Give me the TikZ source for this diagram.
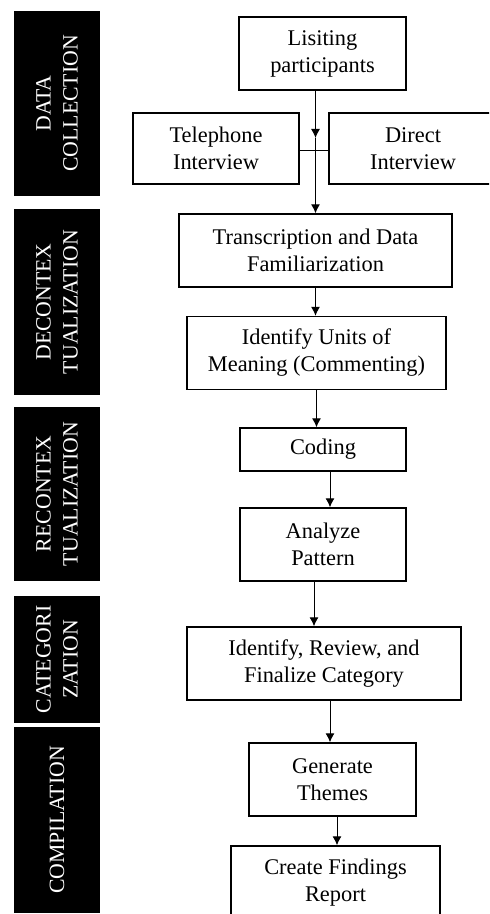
\documentclass[tikz,border=0pt]{standalone}
\usepackage{fontspec}
\setmainfont{Liberation Serif}
\usetikzlibrary{arrows.meta}

\begin{document}
\begin{tikzpicture}[x=0.5pt,y=-0.5pt, b/.style={draw,line width=0.7pt,align=center,minimum height=36.5pt,inner sep=1pt,font=\fontsize{11.2}{13.5}\selectfont}, side/.style={fill=black,text=white,rotate=90,align=center,minimum height=43pt,inner sep=0pt,font=\fontsize{10.9}{13.5}\selectfont}, a/.style={-{Latex[length=4.5pt,width=4.5pt]},line width=0.5pt}]
\useasboundingbox (0,0) rectangle (489,914);
\clip (0,0) rectangle (489,914);
% stage bars
\node[side,minimum width=92.5pt] (s1) at (57,103.5) {DATA\\COLLECTION};
\node[side,minimum width=93pt] (s2) at (57,302) {DECONTEX\\TUALIZATION};
\node[side,minimum width=87pt] (s3) at (57,494) {RECONTEX\\TUALIZATION};
\node[side,minimum width=63.5pt] (s4) at (57,659.5) {CATEGORI\\ZATION};
\node[side,minimum width=93pt] (s5) at (57,820) {COMPILATION};
% steps
\node[b,minimum width=83.5pt] (list) at (322.5,53.5) {Lisiting\\participants};
\node[b,minimum width=83pt,minimum height=35.5pt] (tel) at (216,148.5) {Telephone\\Interview};
\node[b,minimum width=84pt,minimum height=35.5pt] (dir) at (413,148.5) {Direct\\Interview};
\node[b,minimum width=136.5pt] (trans) at (315.5,250.5) {Transcription and Data\\Familiarization};
\node[b,minimum width=129.5pt] (units) at (316.5,353) {Identify Units of\\Meaning (Commenting)};
\node[b,minimum width=83pt,minimum height=21.5pt] (coding) at (323,449.5) {Coding};
\node[b,minimum width=83pt] (pattern) at (323,544.5) {Analyze\\Pattern};
\node[b,minimum width=137pt] (review) at (324,663.5) {Identify, Review, and\\Finalize Category};
\node[b,minimum width=83.5pt] (themes) at (332.5,779.5) {Generate\\Themes};
\node[b,minimum width=104.5pt] (report) at (335.5,882.5) {Create Findings\\Report};
\coordinate (jt) at (315.5,138);
\coordinate (j) at (315.5,151);
\draw[a] (list.south -| j) -- (jt);
\draw[line width=0.5pt] (jt) -- (j);
\draw[line width=0.5pt] (tel.east |- j) -- (dir.west |- j);
\draw[a] (j) -- (j |- trans.north);
\draw[a] (trans.south) -- (trans.south |- units.north);
\draw[a] (units.south) -- (units.south |- coding.north);
\draw[a] ([xshift=3.5pt]coding.south) -- ([xshift=3.5pt]coding.south |- pattern.north);
\draw[a] ([xshift=-4.5pt]pattern.south) -- ([xshift=-4.5pt]pattern.south |- review.north);
\draw[a] ([xshift=3pt]review.south) -- ([xshift=3pt]review.south |- themes.north);
\draw[a] ([xshift=2.25pt]themes.south) -- ([xshift=2.25pt]themes.south |- report.north);
\end{tikzpicture}
\end{document}
